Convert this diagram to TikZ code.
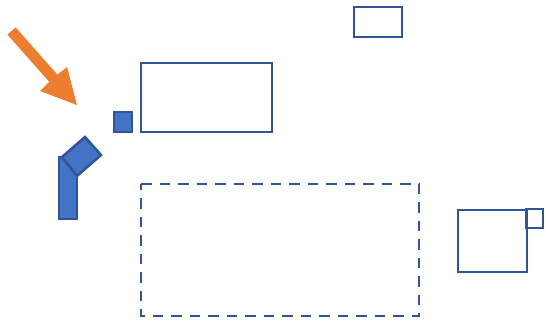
\documentclass[tikz,border=0pt]{standalone}
\definecolor{edgeblue}{HTML}{2F5597}
\definecolor{fillblue}{HTML}{4472C4}
\definecolor{arroworange}{HTML}{ED7D31}
\begin{document}
\begin{tikzpicture}[x=1pt,y=-1pt,
  outline/.style={draw=edgeblue,line width=2.5pt},
  solidbox/.style={draw=edgeblue,fill=fillblue,line width=2.5pt,line join=miter},
  dashbox/.style={draw=edgeblue,line width=2.5pt,dash pattern=on 10.5pt off 8pt}]
\useasboundingbox (0,0) rectangle (546,321);
% orange block arrow
\fill[arroworange] (7.4,34.6) -- (15.6,27.4) -- (57.4,74.6) -- (67,67) -- (77,105) -- (40,91) -- (49.2,81.8) -- cycle;
% small filled square
\draw[solidbox] (114,112) rectangle (132,132);
% vertical bar and tilted block
\draw[solidbox] (59,157) rectangle (77,219);
\draw[solidbox] (62,157) -- (85,137) -- (101,155) -- (77,176) -- cycle;
% outline rectangles
\draw[outline] (141,63) rectangle (272,132);
\draw[outline] (354,7) rectangle (402,37);
\draw[dashbox] (141,184) -- (419,184) -- (419,316) -- (141,316) -- cycle;
\draw[outline] (458,210) rectangle (527,272);
\draw[outline] (526,209) rectangle (543,228);
\end{tikzpicture}
\end{document}
